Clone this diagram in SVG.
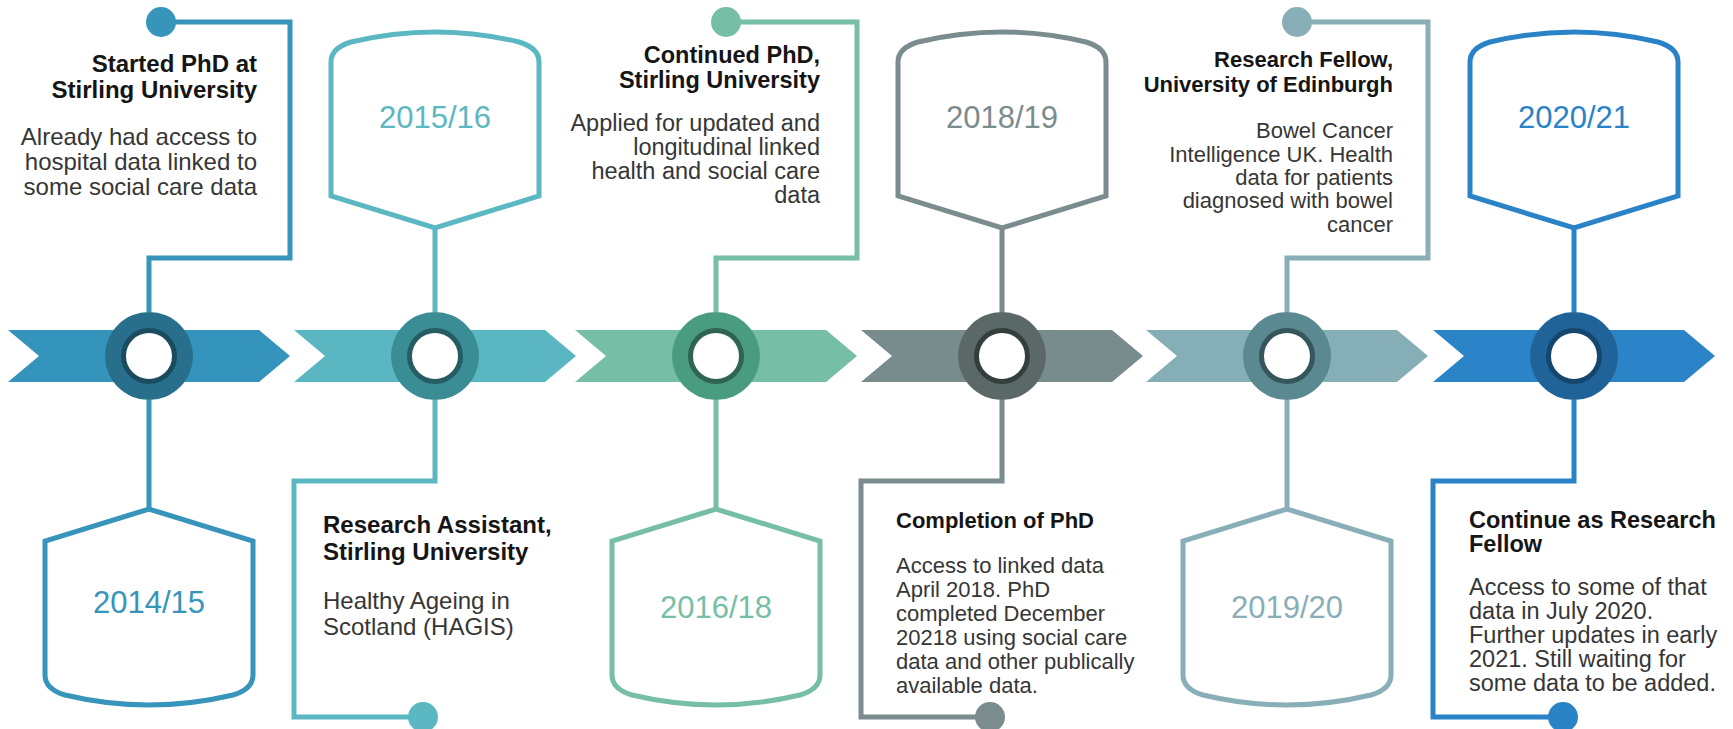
<svg xmlns="http://www.w3.org/2000/svg" xmlns:xlink="http://www.w3.org/1999/xlink" width="1733" height="729" viewBox="0 0 1733 729">
<style>
  .ln { fill: none; stroke-width: 5; stroke-linejoin: miter; }
  .box { fill: #ffffff; stroke-width: 5; stroke-linejoin: miter; }
  .yr { font-family: "Liberation Sans", Arial, sans-serif; font-size: 31px; text-anchor: middle; }
  .tt { font-family: "Liberation Sans", Arial, sans-serif; font-weight: bold; fill: #151515; }
  .bd { font-family: "Liberation Sans", Arial, sans-serif; fill: #363636; }
  .r { text-anchor: end; }
  .s24 { font-size: 24px; }
  .s23 { font-size: 23.5px; }
  .s22 { font-size: 22px; }
  .hole { fill: #ffffff; stroke-width: 5; }
</style>
<defs>
  <path id="topBox" d="M-104,196 V62 Q-104,48 -84,42 Q0,22 84,42 Q104,48 104,62 V196 L0,228 Z"/>
  <path id="botBox" d="M-104,541 V675 Q-104,689 -84,695 Q0,715 84,695 Q104,689 104,675 V541 L0,509 Z"/>
</defs>
<rect width="1733" height="729" fill="#ffffff"/>

<g id="connectors">
  <path class="ln" stroke="#3794BA" d="M161,22 H290 V258 H149 V312 M149,400 V509"/>
  <circle cx="161" cy="22" r="15" fill="#3794BA"/>
  <path class="ln" stroke="#5BB7C1" d="M435,228 V312 M435,400 V481 H294 V717 H423"/>
  <circle cx="423" cy="717" r="15" fill="#5BB7C1"/>
  <path class="ln" stroke="#76BFA6" d="M726,22 H857 V258 H716 V312 M716,400 V509"/>
  <circle cx="726" cy="22" r="15" fill="#76BFA6"/>
  <path class="ln" stroke="#7A8C8D" d="M1002,228 V312 M1002,400 V481 H861 V717 H990"/>
  <circle cx="990" cy="717" r="15" fill="#7A8C8D"/>
  <path class="ln" stroke="#88AFB8" d="M1297,22 H1428 V258 H1287 V312 M1287,400 V509"/>
  <circle cx="1297" cy="22" r="15" fill="#88AFB8"/>
  <path class="ln" stroke="#2B83C7" d="M1574,228 V312 M1574,400 V481 H1433 V717 H1563"/>
  <circle cx="1563" cy="717" r="15" fill="#2B83C7"/>
</g>

<g id="timeline">
  <polygon fill="#3594BB" points="8,330 259,330 290,356 259,382 8,382 39,356"/>
  <polygon fill="#5AB6C0" points="294,330 545,330 576,356 545,382 294,382 325,356"/>
  <polygon fill="#76BFA6" points="575,330 826,330 857,356 826,382 575,382 606,356"/>
  <polygon fill="#798C8D" points="861,330 1112,330 1143,356 1112,382 861,382 892,356"/>
  <polygon fill="#86AEB7" points="1146,330 1397,330 1428,356 1397,382 1146,382 1177,356"/>
  <polygon fill="#2A84C7" points="1433,330 1684,330 1715,356 1684,382 1433,382 1464,356"/>
</g>

<g id="marker-2014-15"><circle cx="149" cy="356" r="44" fill="#286F8C"/><circle class="hole" cx="149" cy="356" r="25.5" stroke="#1B4B5F"/></g>
<g id="marker-2015-16"><circle cx="435" cy="356" r="44" fill="#3A8D95"/><circle class="hole" cx="435" cy="356" r="25.5" stroke="#255D62"/></g>
<g id="marker-2016-18"><circle cx="716" cy="356" r="44" fill="#4A9C80"/><circle class="hole" cx="716" cy="356" r="25.5" stroke="#2E6552"/></g>
<g id="marker-2018-19"><circle cx="1002" cy="356" r="44" fill="#5A6867"/><circle class="hole" cx="1002" cy="356" r="25.5" stroke="#343E3D"/></g>
<g id="marker-2019-20"><circle cx="1287" cy="356" r="44" fill="#5A8992"/><circle class="hole" cx="1287" cy="356" r="25.5" stroke="#37565C"/></g>
<g id="marker-2020-21"><circle cx="1574" cy="356" r="44" fill="#1F6399"/><circle class="hole" cx="1574" cy="356" r="25.5" stroke="#15466D"/></g>

<g id="year-2014-15">
  <use xlink:href="#botBox" href="#botBox" transform="translate(149,0)" class="box" stroke="#3794BA"/>
  <text class="yr" x="149" y="613" fill="#3794BA">2014/15</text>
</g>
<g id="year-2015-16">
  <use xlink:href="#topBox" href="#topBox" transform="translate(435,0)" class="box" stroke="#5BB7C1"/>
  <text class="yr" x="435" y="128" fill="#5BB7C1">2015/16</text>
</g>
<g id="year-2016-18">
  <use xlink:href="#botBox" href="#botBox" transform="translate(716,0)" class="box" stroke="#76BFA6"/>
  <text class="yr" x="716" y="618" fill="#76BFA6">2016/18</text>
</g>
<g id="year-2018-19">
  <use xlink:href="#topBox" href="#topBox" transform="translate(1002,0)" class="box" stroke="#7A8C8D"/>
  <text class="yr" x="1002" y="128" fill="#7A8C8D">2018/19</text>
</g>
<g id="year-2019-20">
  <use xlink:href="#botBox" href="#botBox" transform="translate(1287,0)" class="box" stroke="#88AFB8"/>
  <text class="yr" x="1287" y="618" fill="#88AFB8">2019/20</text>
</g>
<g id="year-2020-21">
  <use xlink:href="#topBox" href="#topBox" transform="translate(1574,0)" class="box" stroke="#2B83C7"/>
  <text class="yr" x="1574" y="128" fill="#2B83C7">2020/21</text>
</g>

<g id="panel-1">
  <text class="tt r s24" x="257" y="72">Started PhD at</text>
  <text class="tt r s24" x="257" y="98">Stirling University</text>
  <text class="bd r s24" x="257" y="145">Already had access to</text>
  <text class="bd r s24" x="257" y="170">hospital data linked to</text>
  <text class="bd r s24" x="257" y="195">some social care data</text>
</g>
<g id="panel-2">
  <text class="tt s24" x="323" y="533">Research Assistant,</text>
  <text class="tt s24" x="323" y="560">Stirling University</text>
  <text class="bd s24" x="323" y="609">Healthy Ageing in</text>
  <text class="bd s24" x="323" y="635">Scotland (HAGIS)</text>
</g>
<g id="panel-3">
  <text class="tt r s23" x="820" y="63">Continued PhD,</text>
  <text class="tt r s23" x="820" y="88">Stirling University</text>
  <text class="bd r s23" x="820" y="131">Applied for updated and</text>
  <text class="bd r s23" x="820" y="155">longitudinal linked</text>
  <text class="bd r s23" x="820" y="179">health and social care</text>
  <text class="bd r s23" x="820" y="203">data</text>
</g>
<g id="panel-4">
  <text class="tt s22" x="896" y="528">Completion of PhD</text>
  <text class="bd s22" x="896" y="573">Access to linked data</text>
  <text class="bd s22" x="896" y="597">April 2018. PhD</text>
  <text class="bd s22" x="896" y="621">completed December</text>
  <text class="bd s22" x="896" y="645">20218 using social care</text>
  <text class="bd s22" x="896" y="669">data and other publically</text>
  <text class="bd s22" x="896" y="693">available data.</text>
</g>
<g id="panel-5">
  <text class="tt r s22" x="1393" y="67">Research Fellow,</text>
  <text class="tt r s22" x="1393" y="92">University of Edinburgh</text>
  <text class="bd r s22" x="1393" y="138">Bowel Cancer</text>
  <text class="bd r s22" x="1393" y="162">Intelligence UK. Health</text>
  <text class="bd r s22" x="1393" y="185">data for patients</text>
  <text class="bd r s22" x="1393" y="208">diagnosed with bowel</text>
  <text class="bd r s22" x="1393" y="232">cancer</text>
</g>
<g id="panel-6">
  <text class="tt s23" x="1469" y="528">Continue as Research</text>
  <text class="tt s23" x="1469" y="552">Fellow</text>
  <text class="bd s23" x="1469" y="595">Access to some of that</text>
  <text class="bd s23" x="1469" y="619">data in July 2020.</text>
  <text class="bd s23" x="1469" y="643">Further updates in early</text>
  <text class="bd s23" x="1469" y="667">2021. Still waiting for</text>
  <text class="bd s23" x="1469" y="691">some data to be added.</text>
</g>
</svg>
